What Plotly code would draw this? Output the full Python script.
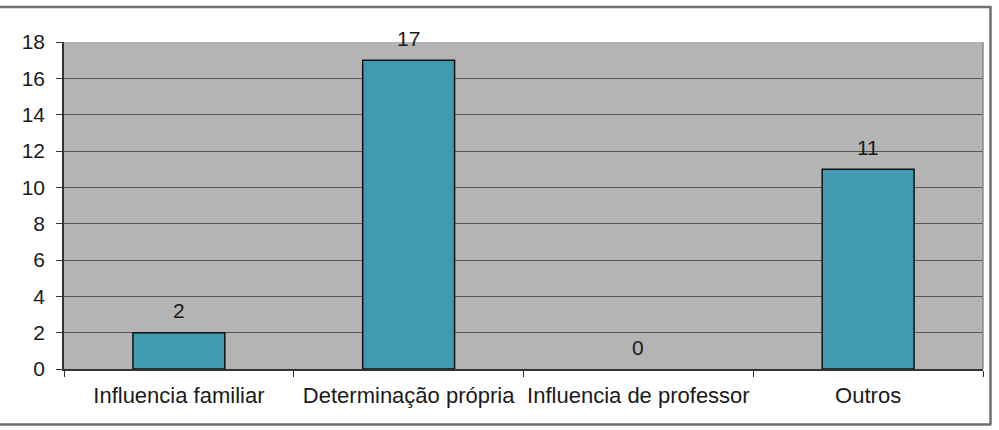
import plotly.graph_objects as go

categories = ["Influencia familiar", "Determinação própria", "Influencia de professor", "Outros"]
values = [2, 17, 0, 11]
y_ticks = [0, 2, 4, 6, 8, 10, 12, 14, 16, 18]

W, H = 999, 430
L, R, T, B = 64, 16, 42, 61
pw, ph = W - L - R, H - T - B
FONT = "Liberation Sans, Arial"
TXT = "#1a1a1a"

def px_x(px):
    return (px - L) / pw

def px_y(py):
    return (H - B - py) / ph

fig = go.Figure()
fig.add_trace(go.Bar(
    x=categories, y=values, width=0.4,
    marker=dict(color="#4199b2",
                line=dict(color="#111111", width=[1.5 if v > 0 else 0 for v in values])),
    hoverinfo="x+y",
))

annotations = []
for c, v in zip(categories, values):
    annotations.append(dict(
        x=c, y=v, xref="x", yref="y", text=str(v), showarrow=False,
        yanchor="middle", yshift=22,
        font=dict(family=FONT, size=21, color=TXT),
    ))

frame_color = "#707070"
shapes = [
    dict(type="line", xref="paper", yref="paper", x0=px_x(-5), x1=px_x(991), y0=px_y(7), y1=px_y(7),
         line=dict(color=frame_color, width=2.5)),
    dict(type="line", xref="paper", yref="paper", x0=px_x(990.5), x1=px_x(990.5), y0=px_y(6), y1=px_y(425),
         line=dict(color=frame_color, width=2.5)),
    dict(type="line", xref="paper", yref="paper", x0=px_x(-5), x1=px_x(991), y0=px_y(424.5), y1=px_y(424.5),
         line=dict(color=frame_color, width=2.5)),
    dict(type="line", xref="paper", yref="paper", x0=1, x1=1, y0=0, y1=1,
         line=dict(color="#8a8a8a", width=1.5), layer="above"),
]

fig.update_layout(
    width=W, height=H,
    margin=dict(l=L, r=R, t=T, b=B, autoexpand=False),
    paper_bgcolor="#ffffff",
    plot_bgcolor="#b4b4b4",
    showlegend=False,
    bargap=0.6,
    font=dict(family=FONT, size=21, color=TXT),
    annotations=annotations,
    shapes=shapes,
    xaxis=dict(
        type="category", tickson="boundaries", ticks="outside", ticklen=6,
        tickcolor="#333333", showline=True, linecolor="#333333", linewidth=1.5,
        showgrid=False, tickfont=dict(family=FONT, size=22, color=TXT),
        ticklabelstandoff=6, tickangle=0, automargin=False,
    ),
    yaxis=dict(
        range=[0, 18], tickvals=y_ticks, ticks="outside", ticklen=6,
        tickcolor="#333333", showline=True, linecolor="#333333", linewidth=1.5,
        showgrid=True, gridcolor="#555555", gridwidth=1, zeroline=False,
        tickfont=dict(family=FONT, size=21, color=TXT),
        ticklabelstandoff=7, automargin=False,
    ),
)

fig.write_html("out.html")
